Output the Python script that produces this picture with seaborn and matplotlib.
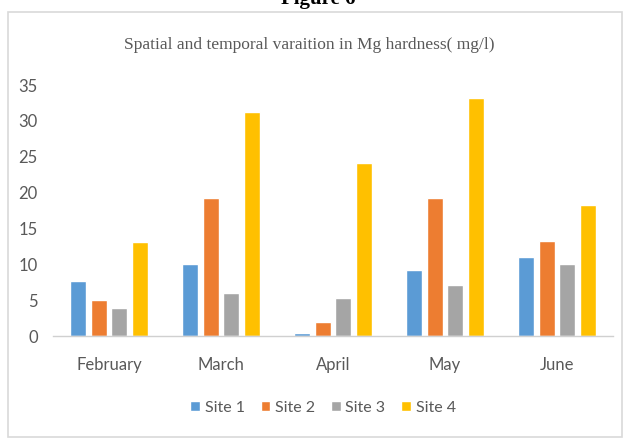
import matplotlib
matplotlib.use("Agg")
import matplotlib.pyplot as plt
from matplotlib.patches import Rectangle
import seaborn as sns
import pandas as pd

months = ["February", "March", "April", "May", "June"]
sites = ["Site 1", "Site 2", "Site 3", "Site 4"]
site1 = [7.7, 10.1, 0.4, 9.2, 11.0]
site2 = [5.0, 19.2, 2.0, 19.2, 13.2]
site3 = [3.9, 6.0, 5.3, 7.1, 10.1]
site4 = [13.1, 31.2, 24.1, 33.2, 18.2]
yticks = [0, 5, 10, 15, 20, 25, 30, 35]
colors = ["#5B9BD5", "#ED7D31", "#A5A5A5", "#FFC000"]

rows = []
for site, vals in zip(sites, [site1, site2, site3, site4]):
    for m, v in zip(months, vals):
        rows.append({"Month": m, "Site": site, "Mg": v})
df = pd.DataFrame(rows)

sns.set_theme(style="white")
plt.rcParams["font.family"] = ["Lato", "DejaVu Sans"]

W, H = 629, 440
fig = plt.figure(figsize=(W / 100, H / 100), dpi=100)
ax = fig.add_axes([53 / W, 1 - 336 / H, 560 / W, (336 - 85) / H])

sns.barplot(data=df, x="Month", y="Mg", hue="Site", order=months,
            hue_order=sites, palette=colors, width=0.74, gap=0.24,
            saturation=1, errorbar=None, ax=ax, legend=True)

ax.set_ylim(0, 35)
ax.set_xlim(-0.5, 4.5)
ax.set_yticks(yticks)
ax.set_yticklabels([str(t) for t in yticks])
ax.set_xlabel("")
ax.set_ylabel("")
for side in ["top", "right", "left"]:
    ax.spines[side].set_visible(False)
ax.spines["bottom"].set_color("#D0D0D0")
ax.spines["bottom"].set_linewidth(1.0)
ax.tick_params(axis="y", length=0, pad=11, labelsize=12, labelcolor="#595959")
ax.tick_params(axis="x", length=0, pad=15, labelsize=12, labelcolor="#595959")

handles, labels = ax.get_legend_handles_labels()
ax.legend(handles, labels, loc="center", bbox_to_anchor=(323 / W, 1 - 408 / H),
          bbox_transform=fig.transFigure, ncol=4, frameon=False,
          handlelength=0.6, handleheight=0.6, handletextpad=0.3,
          columnspacing=1.0, fontsize=11.5, labelcolor="#595959")

fig.text(309 / W, 1 - 45 / H,
         "Spatial and temporal varaition in Mg hardness( mg/l)",
         ha="center", va="center", fontsize=12.5, color="#595959",
         family=["Liberation Serif", "DejaVu Serif"])

fig.text(318 / W, 1 + 1 / H, "Figure 6", ha="center", va="center",
         fontsize=15, fontweight="bold", color="black",
         family=["Liberation Serif", "DejaVu Serif"])

fig.patches.append(Rectangle((7.5 / W, 1 - 437 / H), 614 / W, 425 / H,
                             transform=fig.transFigure, fill=False,
                             edgecolor="#D9D9D9", linewidth=1.2))

fig.savefig("out.png", dpi=100)
